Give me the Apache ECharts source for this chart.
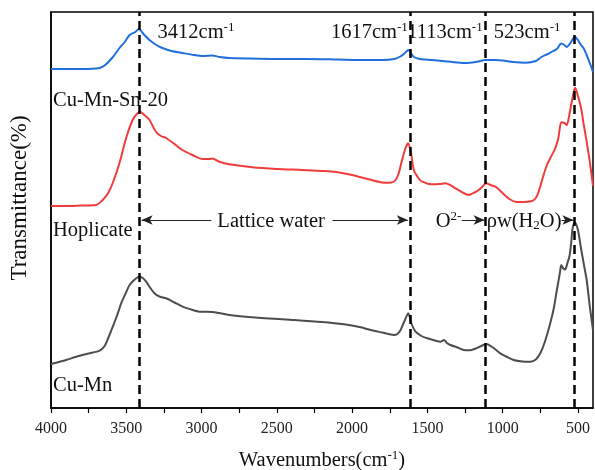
<!DOCTYPE html>
<html>
<head>
<meta charset="utf-8">
<script src="https://cdn.jsdelivr.net/npm/echarts@6/dist/echarts.min.js"></script>
<style>
  html, body { margin: 0; padding: 0; background: #fff; }
  #chart { width: 595px; height: 470px; }
</style>
</head>
<body>
<div id="chart"></div>
<script>
// FTIR spectra, wavenumber (cm-1) vs. offset transmittance (arbitrary units)
const wnCuMnSn = [4000,3900,3800,3700,3677,3640,3589,3545,3510,3478,3440,3417,3380,3346,3300,3260,3200,3127,3050,2990,2928,2880,2816,2700,2500,2300,2100,1900,1800,1720,1680,1650,1627,1605,1590,1550,1470,1400,1300,1247,1180,1113,1050,1000,930,849,780,743,700,677,640,611,590,576,550,530,519,500,480,463,442,420,400];
const tCuMnSn  = [339,339,339,339.5,340,343,351,360,366,373,376,379,373,368,363,360,357,355,353,352,352.5,351,350,349.5,349,349,348.5,348,348,349,351.5,355,358,354,351,349,348,347,345.5,345,346,348,348,347.5,346,345.3,347,351,354,356,359,364.5,363,361,365,370,371,368,363,360,353,344.5,336];

const wnHoplicate = [4000,3900,3800,3700,3657,3620,3590,3545,3499,3458,3430,3408,3380,3346,3302,3270,3235,3180,3127,3060,2994,2950,2928,2882,2816,2663,2500,2332,2200,2107,2001,1889,1777,1740,1711,1690,1668,1645,1627,1610,1590,1560,1535,1470,1420,1380,1313,1260,1225,1180,1159,1130,1110,1080,1048,1015,982,950,916,860,806,780,761,730,706,680,651,630,611,590,574,555,541,525,519,500,479,460,442,420,400];
const tHoplicate  = [202,202,202.5,203,208,215,225,245,271,288,294,296.3,293,288,276,272,270,264,258,253,249,249,249.5,246.3,243.7,240.7,239,238,237,236,233,228.7,225.3,225.5,228,235,248,260,264.7,256,238,230,226.3,223.7,224,224.7,219.7,215,213,216,218,222,224.7,223,221.3,217,212.3,208.5,206.3,206,207,210,216.3,232,243,251,259.7,270,285.7,285,283,295,306.3,318,320.3,312,299.7,282,266.3,245,222];

const wnCuMn = [4000,3900,3832,3750,3677,3644,3620,3590,3560,3534,3500,3478,3440,3416,3390,3368,3340,3313,3280,3235,3180,3125,3060,3015,2926,2816,2600,2385,2200,2054,1950,1877,1800,1722,1700,1678,1655,1627,1605,1579,1540,1501,1450,1413,1390,1370,1347,1300,1258,1220,1192,1150,1108,1060,1015,970,927,870,816,780,750,720,684,660,640,620,611,600,585,570,556,545,537,528,519,500,480,460,442,420,400];
const tCuMn  = [44,48,51.3,54.5,57.3,62,70,81.3,93,104.7,116,123,129,131.3,130,126.3,120,114.7,111.5,109.7,105.5,101.3,98,96.3,96,93,90,88,86,83.7,81,78,75.5,73,74,78,86,94.7,84,76.3,72,69.7,67.5,66.3,68,65,63,60.5,58,57.8,58.7,61.5,64,60,54.7,51,48,46.5,46.3,48.5,54.7,66,84.7,100,118,135,143,140,138.5,145,152,165,178,184,185.3,178,160,143,128,100,78];

const seriesNames = ['Cu-Mn-Sn-20', 'Hoplicate', 'Cu-Mn'];
const bandPositions = [3412, 1617, 1113, 523];
const xLabelValues = [500,1000,1500,2000,2500,3000,3500,4000];
const xTickValues = [500,750,1000,1250,1500,1750,2000,2250,2500,2750,3000,3250,3500,3750,4000];

const SERIF = '"Liberation Serif", "Times New Roman", serif';
const zip = (xs, ys) => xs.map((x, i) => [x, ys[i]]);

const chart = echarts.init(document.getElementById('chart'), null, { renderer: 'canvas' });

// Arrows of the annotation row (start -> tip), at one level
const arrowLevel = 188;
const arrowPairs = [[2935, 3398], [2130, 1630], [1272, 1120], [609, 530]];

const lineSeries = (name, data, color) => ({
  name, type: 'line', data, showSymbol: false, symbol: 'none', smooth: 0.25,
  lineStyle: { color, width: 2 }, z: 2
});

const s0 = lineSeries(seriesNames[0], zip(wnCuMnSn, tCuMnSn), '#1f6fdc');
s0.markLine = {
  silent: true, symbol: ['none', 'none'], label: { show: false },
  lineStyle: { color: '#000', type: [9, 5], width: 2.5 },
  data: bandPositions.map(v => ({ xAxis: v })), z: 5
};
const s1 = lineSeries(seriesNames[1], zip(wnHoplicate, tHoplicate), '#f03c3c');
s1.markLine = {
  silent: true, symbol: ['none', 'arrow'], symbolSize: [7, 11], label: { show: false },
  lineStyle: { color: '#222', type: 'solid', width: 1 },
  data: arrowPairs.map(p => [{ coord: [p[0], arrowLevel] }, { coord: [p[1], arrowLevel] }])
};
const s2 = lineSeries(seriesNames[2], zip(wnCuMn, tCuMn), '#4d4d4d');

const option = {
  animation: false,
  backgroundColor: '#fff',
  grid: {
    left: 51, right: 2, top: 12, bottom: 62, containLabel: false, outerBoundsMode: 'none',
    show: true, borderColor: '#000', borderWidth: 1.5
  },
  xAxis: {
    type: 'value', min: 400, max: 4000, inverse: true,
    name: '{n|Wavenumbers(cm}{s|-1}{n|)}',
    nameLocation: 'middle', nameGap: 41,
    nameTextStyle: {
      rich: {
        n: { fontFamily: SERIF, fontSize: 20.5, color: '#111', lineHeight: 22, verticalAlign: 'bottom' },
        s: { fontFamily: SERIF, fontSize: 13, color: '#111', lineHeight: 22, verticalAlign: 'top' }
      }
    },
    axisLine: { lineStyle: { color: '#000', width: 1.5 } },
    axisTick: { show: true, inside: false, length: 5, customValues: xTickValues, lineStyle: { color: '#000', width: 1.2 } },
    axisLabel: {
      customValues: xLabelValues, margin: 13, fontFamily: SERIF, fontSize: 16, color: '#222',
      formatter: v => String(v)
    },
    splitLine: { show: false }
  },
  yAxis: {
    type: 'value', min: 0, max: 396,
    axisLine: { show: true, lineStyle: { color: '#000', width: 1.5 } },
    axisTick: { show: false }, axisLabel: { show: false }, splitLine: { show: false }
  },
  series: [s0, s1, s2]
};
chart.setOption(option);

// Text annotations placed through the axis scale
const px = w => chart.convertToPixel({ xAxisIndex: 0 }, w);
const richBase = {
  n: { fontFamily: SERIF, fontSize: 20.5, fill: '#111', lineHeight: 22, verticalAlign: 'bottom' },
  s: { fontFamily: SERIF, fontSize: 13, fill: '#111', lineHeight: 22, verticalAlign: 'top' },
  b: { fontFamily: SERIF, fontSize: 13, fill: '#111', lineHeight: 22, verticalAlign: 'bottom' }
};
const txt = (text, x, y, align) => ({
  type: 'text', x, y, z: 10,
  style: { text, rich: richBase, align: align || 'left', verticalAlign: 'middle', fontFamily: SERIF, fontSize: 20, fill: '#111' }
});
const x4000 = px(4000);
const graphics = [
  {
    type: 'text', x: 20, y: 198, rotation: Math.PI / 2, z: 10,
    style: { text: 'Transmittance(%)', align: 'center', verticalAlign: 'middle', fontFamily: SERIF, fontSize: 23, fill: '#111' }
  },
  txt('{n|' + seriesNames[0] + '}', x4000 + 2, 100),
  txt('{n|' + seriesNames[1] + '}', x4000 + 2, 230),
  txt('{n|' + seriesNames[2] + '}', x4000 + 2, 385),
  txt('{n|3412cm}{s|-1}', px(bandPositions[0]) + 18, 32),
  txt('{n|1617cm}{s|-1}', px(bandPositions[1]) - 2, 32, 'right'),
  txt('{n|1113cm}{s|-1}', px(bandPositions[2]) - 3, 32, 'right'),
  txt('{n|523cm}{s|-1}', px(bandPositions[3]) - 14, 32, 'right'),
  txt('{n|Lattice water}', px(2895), 221),
  txt('{n|O}{s|2-}', px(1444), 221),
  txt('{n|ρw(H}{b|2}{n|O)}', px(1106), 221)
];
chart.setOption({ graphic: graphics });
</script>
</body>
</html>
